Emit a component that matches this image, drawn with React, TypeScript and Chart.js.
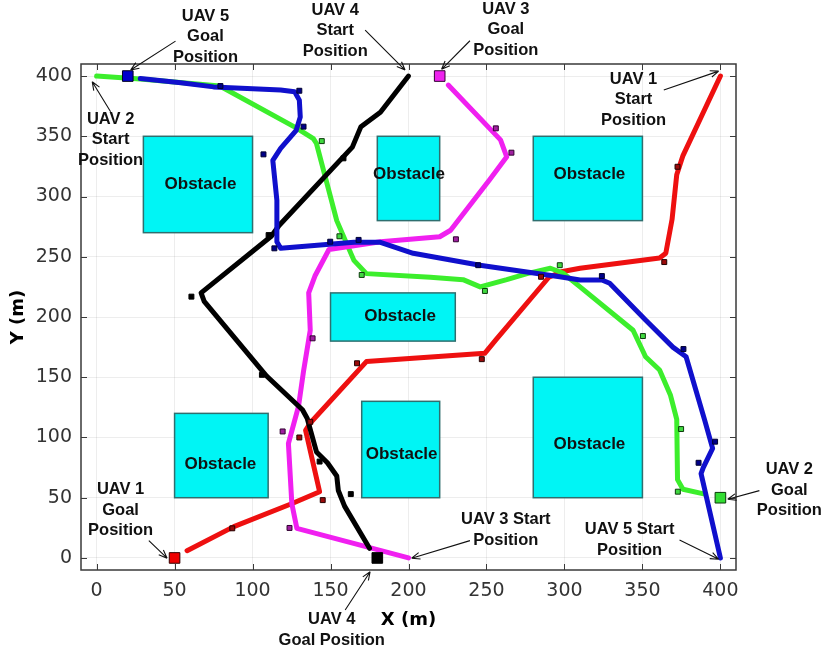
import React, { useEffect, useRef } from "react";
import { Chart, registerables } from "chart.js";

Chart.register(...registerables);

type P = [number, number];

const xTicks = [0, 50, 100, 150, 200, 250, 300, 350, 400];
const yTicks = [0, 50, 100, 150, 200, 250, 300, 350, 400];

// UAV paths (start -> near goal)
const uav1Path: P[] = [
  [400, 400], [376, 334], [372, 318], [369, 281], [365, 253], [361, 249], [310, 240.5],
  [298, 237.6], [290, 233], [256, 181], [249, 170], [173, 163], [137, 112], [134, 106],
  [143, 55], [125, 45], [88, 26], [58, 6],
];
const uav2Path: P[] = [
  [0, 400], [28, 397.5], [79, 391.7], [128, 357], [139, 348], [141, 344], [154, 280],
  [165, 247], [173, 236], [214, 233], [235, 231], [246, 225], [263, 231], [276, 236],
  [291, 240.5], [299, 236.5], [310, 225], [344, 189], [352, 167], [361, 156], [368, 135],
  [372, 115], [372.5, 65], [376, 57], [390, 53],
];
const uav3Path: P[] = [
  [200, 0], [128.4, 24.6], [125.2, 45], [123, 95], [129.5, 126], [132.7, 155], [137, 189],
  [136, 220], [140, 234], [149, 256], [182, 262.5], [220, 266.6], [227, 272], [252, 314],
  [263, 333], [259, 347], [225.5, 392.5],
];
const uav4Path: P[] = [
  [200, 400], [182, 370], [169.5, 358], [164, 341], [117, 276], [112, 267], [67, 220],
  [69, 213], [109, 151], [132, 123], [135, 116], [141, 88], [148, 79], [154, 68],
  [155, 56], [159, 43], [175, 8],
];
const uav5Path: P[] = [
  [400, 0], [387.6, 70], [389, 75], [395, 91], [390, 114], [378, 167], [369.5, 175],
  [352, 197.5], [329, 228], [324, 230.7], [310, 230.7], [297, 233.4], [245.8, 243],
  [203, 252.9], [182, 262], [165, 262], [118, 257], [115.6, 262.5], [115.6, 297],
  [113, 330], [118, 340], [128, 355], [130.6, 366], [130, 380], [127, 387], [118, 388.4],
  [75, 391], [54, 394.5], [28, 398],
];

// small waypoint markers
const uav1Marks: P[] = [[372.5, 324.7], [364, 245.6], [285, 233.4], [247, 165], [167, 161.6], [137, 113], [130, 100], [145, 48], [87, 24.6]];
const uav2Marks: P[] = [[144.4, 346], [155.7, 267], [170, 234.9], [249, 221.6], [297, 243], [350.3, 184.2], [374.8, 107], [372.7, 55]];
const uav3Marks: P[] = [[256, 356.6], [266, 336.4], [230.4, 264.5], [138.5, 182.3], [119.3, 105], [123.7, 24.9]];
const uav4Marks: P[] = [[158.3, 331.7], [110.3, 268], [60.8, 216.9], [106, 152], [143, 80], [163, 53]];
const uav5Marks: P[] = [[79.4, 391.7], [130, 387.8], [132.7, 358], [107, 335], [114, 257], [149.8, 262.5], [168, 264], [244.7, 243], [324, 234], [376.3, 173.4], [396.6, 96.5], [386, 79]];

// goal positions
const goal1: P = [50, 0];
const goal2: P = [400, 50];
const goal3: P = [220, 400];
const goal4: P = [180, 0];
const goal5: P = [20, 400];

// obstacles [x0, x1, y0, y1]
const obstacles: [number, number, number, number][] = [
  [30, 100, 270, 350], [180, 220, 280, 350], [280, 350, 280, 350],
  [150, 230, 180, 220],
  [50, 110, 50, 120], [170, 220, 50, 130], [280, 350, 50, 150],
];
const obstacleLabelPos: P[] = [
  [66.6, 310.4], [200.3, 318.7], [316, 318.7], [194.6, 200.8], [79.4, 78], [195.6, 86], [316, 94.6],
];

// annotations: text lines, text anchor (data), arrow from -> to (data)
const annTexts: string[][] = [
  ["UAV 5", "Goal", "Position"],
  ["UAV 4", "Start", "Position"],
  ["UAV 3", "Goal", "Position"],
  ["UAV 1", "Start", "Position"],
  ["UAV 2", "Start", "Position"],
  ["UAV 1", "Goal", "Position"],
  ["UAV 4", "Goal Position"],
  ["UAV 3 Start", "Position"],
  ["UAV 5 Start", "Position"],
  ["UAV 2", "Goal", "Position"],
];
const annAnchor: P[] = [
  [69.8, 449.8], [153, 454.8], [262.4, 455.6], [344.3, 397.5], [9, 364.3],
  [15.4, 57], [150.8, -50.9], [262.4, 32.1], [341.8, 23.8], [444.2, 73.6],
];
const annFrom: P[] = [
  [50.6, 429], [172.2, 438.2], [239.4, 429.3], [363.7, 388.4], [9, 370.4],
  [33.5, 14.4], [159.4, -43.2], [239.4, 14.4], [373.8, 14.9], [425, 55.9],
];
const annTo: P[] = [
  [21.8, 405], [197.8, 405], [221.2, 405.6], [398.9, 404.1], [-2.8, 395.3],
  [45.2, -0.2], [175.4, -11.4], [202, -0.2], [398.9, -1.1], [404.7, 48.7],
];

const toXY = (arr: P[]) => arr.map(([x, y]) => ({ x, y }));

const overlayPlugin = {
  id: "overlay",
  beforeDatasetsDraw(chart: any) {
    const { ctx, scales } = chart;
    const sx = scales.x;
    const sy = scales.y;
    ctx.save();
    obstacles.forEach(([x0, x1, y0, y1]) => {
      const px0 = sx.getPixelForValue(x0);
      const px1 = sx.getPixelForValue(x1);
      const py0 = sy.getPixelForValue(y1);
      const py1 = sy.getPixelForValue(y0);
      ctx.fillStyle = "#00f5f5";
      ctx.fillRect(px0, py0, px1 - px0, py1 - py0);
      ctx.strokeStyle = "#2f6f6f";
      ctx.lineWidth = 1.5;
      ctx.strokeRect(px0, py0, px1 - px0, py1 - py0);
    });
    ctx.fillStyle = "#111";
    ctx.font = "bold 17px 'Liberation Sans', Arial, sans-serif";
    ctx.textAlign = "center";
    ctx.textBaseline = "middle";
    obstacleLabelPos.forEach(([lx, ly]) => {
      ctx.fillText("Obstacle", sx.getPixelForValue(lx), sy.getPixelForValue(ly));
    });
    ctx.restore();
  },
  afterDraw(chart: any) {
    const { ctx, chartArea, scales } = chart;
    const sx = scales.x;
    const sy = scales.y;
    const { left, right, top, bottom } = chartArea;
    ctx.save();
    // frame
    ctx.strokeStyle = "#3a3a3a";
    ctx.lineWidth = 1.5;
    ctx.strokeRect(left, top, right - left, bottom - top);
    // inward ticks
    ctx.lineWidth = 1;
    ctx.beginPath();
    const tl = 6;
    xTicks.forEach((v) => {
      const px = Math.round(sx.getPixelForValue(v)) + 0.5;
      ctx.moveTo(px, bottom); ctx.lineTo(px, bottom - tl);
      ctx.moveTo(px, top); ctx.lineTo(px, top + tl);
    });
    yTicks.forEach((v) => {
      const py = Math.round(sy.getPixelForValue(v)) + 0.5;
      ctx.moveTo(left, py); ctx.lineTo(left + tl, py);
      ctx.moveTo(right, py); ctx.lineTo(right - tl, py);
    });
    ctx.stroke();

    // annotations
    ctx.fillStyle = "#111";
    ctx.strokeStyle = "#111";
    ctx.font = "bold 16.5px 'Liberation Sans', Arial, sans-serif";
    ctx.textAlign = "center";
    ctx.textBaseline = "middle";
    const lh = 20.7;
    annTexts.forEach((lines, i) => {
      const ax = sx.getPixelForValue(annAnchor[i][0]);
      const ay = sy.getPixelForValue(annAnchor[i][1]);
      lines.forEach((t, k) => ctx.fillText(t, ax, ay + k * lh));
      const fx = sx.getPixelForValue(annFrom[i][0]);
      const fy = sy.getPixelForValue(annFrom[i][1]);
      const tx = sx.getPixelForValue(annTo[i][0]);
      const ty = sy.getPixelForValue(annTo[i][1]);
      ctx.lineWidth = 1.1;
      ctx.beginPath();
      ctx.moveTo(fx, fy);
      ctx.lineTo(tx, ty);
      const ang = Math.atan2(ty - fy, tx - fx);
      const hl = 9;
      const spread = 0.38;
      ctx.moveTo(tx, ty);
      ctx.lineTo(tx - hl * Math.cos(ang - spread), ty - hl * Math.sin(ang - spread));
      ctx.moveTo(tx, ty);
      ctx.lineTo(tx - hl * Math.cos(ang + spread), ty - hl * Math.sin(ang + spread));
      ctx.stroke();
    });
    ctx.restore();
  },
};

const lineDs = (data: P[], color: string, order: number) => ({
  type: "line" as const,
  data: toXY(data),
  borderColor: color,
  backgroundColor: color,
  borderWidth: 5,
  pointRadius: 0,
  showLine: true,
  tension: 0,
  borderJoinStyle: "round" as const,
  borderCapStyle: "round" as const,
  order,
});

const markDs = (data: P[], fill: string, border: string, radius: number, order: number) => ({
  type: "scatter" as const,
  data: toXY(data),
  pointStyle: "rect" as const,
  pointRadius: radius,
  backgroundColor: fill,
  borderColor: border,
  pointBorderWidth: 1,
  borderWidth: 1,
  showLine: false,
  order,
});

export default function App() {
  const ref = useRef<HTMLCanvasElement | null>(null);
  useEffect(() => {
    if (!ref.current) return;
    const gridColor = "rgba(0,0,0,0.07)";
    const tickFont = { family: "'DejaVu Sans', sans-serif", size: 19 };
    const titleFont = { family: "'DejaVu Sans', sans-serif", size: 18, weight: "bold" as const };
    const chart = new Chart(ref.current, {
      type: "scatter",
      data: {
        datasets: [
          lineDs(uav1Path, "#ee1010", 9),
          lineDs(uav2Path, "#3cee2c", 8),
          lineDs(uav3Path, "#f020f0", 7),
          lineDs(uav4Path, "#000000", 6),
          lineDs(uav5Path, "#1010cc", 5),
          markDs(uav1Marks, "#9a0a0a", "#220000", 3.5, 4),
          markDs(uav2Marks, "#40d840", "#0d3a0d", 3.5, 4),
          markDs(uav3Marks, "#a020a0", "#300030", 3.5, 4),
          markDs(uav4Marks, "#000000", "#000000", 3.5, 4),
          markDs(uav5Marks, "#000088", "#000030", 3.5, 4),
          markDs([goal1], "#ee0000", "#330000", 7.5, 1),
          markDs([goal2], "#33dd33", "#0a3a0a", 7.5, 1),
          markDs([goal3], "#ee22ee", "#330033", 7.5, 1),
          markDs([goal4], "#000000", "#000000", 7.5, 1),
          markDs([goal5], "#0000cc", "#000022", 7.5, 1),
        ] as any,
      },
      options: {
        responsive: false,
        animation: false,
        events: [],
        layout: { padding: { left: 0, right: 88, top: 64, bottom: 0 } },
        plugins: { legend: { display: false }, tooltip: { enabled: false } },
        scales: {
          x: {
            type: "linear",
            min: -10,
            max: 410,
            afterBuildTicks: (s: any) => { s.ticks = xTicks.map((v) => ({ value: v })); },
            afterFit: (s: any) => { s.height = 81; },
            grid: { color: gridColor, drawTicks: false },
            border: { display: false },
            ticks: { font: tickFont, color: "#333", padding: 10, maxRotation: 0 },
            title: { display: true, text: "X (m)", font: titleFont, color: "#000", padding: { top: 0, bottom: 20 } },
          },
          y: {
            type: "linear",
            min: -10,
            max: 410,
            afterBuildTicks: (s: any) => { s.ticks = yTicks.map((v) => ({ value: v })); },
            afterFit: (s: any) => { s.width = 81; },
            grid: { color: gridColor, drawTicks: false },
            border: { display: false },
            ticks: { font: tickFont, color: "#333", padding: 9 },
            title: { display: true, text: "Y (m)", font: titleFont, color: "#000", padding: { top: 8, bottom: 0 } },
          },
        },
      },
      plugins: [overlayPlugin],
    } as any);
    return () => chart.destroy();
  }, []);
  return (
    <div style={{ position: "absolute", left: 0, top: 0, width: 824, height: 651, background: "#fff" }}>
      <canvas ref={ref} width={824} height={651} style={{ display: "block", width: 824, height: 651 }} />
    </div>
  );
}
